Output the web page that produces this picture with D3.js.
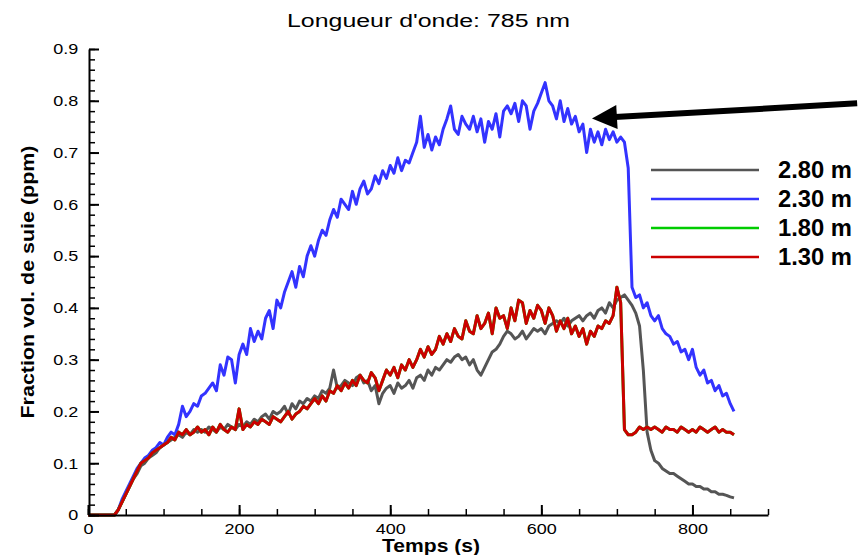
<!DOCTYPE html>
<html>
<head>
<meta charset="utf-8">
<script src="https://cdn.jsdelivr.net/npm/d3@7"></script>
<style>
body { margin: 0; background: #fff; }
text { font-family: "Liberation Sans", Arial, sans-serif; }
</style>
</head>
<body>
<svg id="chart" width="859" height="555"></svg>
<script>
// values, one sample every 5 s
const gray280 = [
  0,0,0,0,0,0,0,0,0.01,0.025,
  0.04,0.055,0.07,0.08,0.095,0.10,0.11,0.115,0.12,0.13,
  0.135,0.14,0.145,0.15,0.155,0.15,0.16,0.155,0.165,0.16,
  0.165,0.16,0.17,0.165,0.16,0.17,0.165,0.175,0.17,0.165,
  0.175,0.17,0.18,0.175,0.185,0.18,0.19,0.195,0.185,0.20,
  0.195,0.20,0.21,0.195,0.215,0.205,0.22,0.215,0.225,0.22,
  0.23,0.225,0.24,0.235,0.245,0.28,0.245,0.25,0.26,0.255,
  0.25,0.265,0.27,0.255,0.26,0.24,0.25,0.215,0.235,0.245,
  0.25,0.235,0.255,0.245,0.25,0.26,0.245,0.265,0.27,0.26,
  0.28,0.27,0.285,0.28,0.29,0.30,0.295,0.305,0.31,0.30,
  0.305,0.29,0.30,0.28,0.27,0.285,0.30,0.315,0.32,0.33,
  0.345,0.355,0.35,0.34,0.345,0.355,0.34,0.35,0.36,0.355,
  0.36,0.35,0.365,0.37,0.375,0.37,0.38,0.365,0.375,0.38,
  0.385,0.375,0.385,0.39,0.38,0.395,0.40,0.39,0.41,0.40,
  0.415,0.42,0.425,0.415,0.405,0.39,0.365,0.28,0.16,0.125,
  0.105,0.10,0.09,0.085,0.08,0.08,0.075,0.07,0.065,0.06,
  0.06,0.055,0.055,0.05,0.05,0.045,0.045,0.04,0.04,0.038,
  0.035,0.033
];
const blue230 = [
  0,0,0,0,0,0,0,0,0.01,0.03,
  0.045,0.06,0.075,0.09,0.10,0.11,0.115,0.125,0.13,0.14,
  0.135,0.15,0.16,0.155,0.175,0.21,0.19,0.20,0.215,0.21,
  0.23,0.235,0.245,0.255,0.24,0.29,0.27,0.305,0.30,0.255,
  0.31,0.33,0.31,0.36,0.335,0.355,0.34,0.38,0.395,0.36,
  0.415,0.40,0.43,0.45,0.47,0.44,0.48,0.46,0.50,0.52,
  0.50,0.53,0.55,0.54,0.57,0.59,0.575,0.61,0.60,0.59,
  0.625,0.60,0.63,0.645,0.62,0.63,0.655,0.64,0.665,0.65,
  0.675,0.66,0.69,0.665,0.685,0.68,0.70,0.72,0.77,0.71,
  0.735,0.705,0.73,0.715,0.745,0.765,0.79,0.745,0.735,0.77,
  0.755,0.745,0.77,0.74,0.765,0.72,0.76,0.745,0.775,0.73,
  0.78,0.79,0.775,0.795,0.76,0.80,0.79,0.745,0.78,0.795,
  0.815,0.835,0.80,0.79,0.765,0.80,0.76,0.785,0.755,0.77,
  0.74,0.755,0.70,0.745,0.72,0.74,0.715,0.745,0.725,0.74,
  0.72,0.73,0.72,0.67,0.44,0.42,0.425,0.40,0.41,0.385,
  0.375,0.385,0.36,0.35,0.345,0.33,0.335,0.315,0.32,0.30,
  0.32,0.285,0.27,0.28,0.255,0.26,0.24,0.25,0.23,0.235,
  0.215,0.20
];
// 1.80 m runs almost exactly under 1.30 m
const green180 = [
  0,0,0,0,0,0,0,0,0.01,0.025,
  0.04,0.055,0.07,0.085,0.10,0.105,0.11,0.12,0.125,0.13,
  0.135,0.14,0.15,0.145,0.16,0.155,0.165,0.155,0.16,0.17,
  0.16,0.165,0.155,0.17,0.16,0.175,0.165,0.16,0.17,0.165,
  0.205,0.165,0.175,0.17,0.18,0.175,0.185,0.18,0.175,0.19,
  0.185,0.18,0.19,0.20,0.185,0.195,0.20,0.21,0.205,0.215,
  0.225,0.215,0.23,0.22,0.24,0.235,0.25,0.24,0.255,0.245,
  0.26,0.25,0.27,0.26,0.255,0.275,0.265,0.24,0.26,0.28,
  0.27,0.285,0.265,0.29,0.28,0.30,0.285,0.30,0.32,0.305,
  0.325,0.31,0.32,0.345,0.33,0.35,0.335,0.36,0.345,0.34,
  0.375,0.355,0.35,0.385,0.36,0.37,0.39,0.35,0.40,0.38,
  0.385,0.36,0.40,0.375,0.415,0.41,0.37,0.395,0.38,0.405,
  0.395,0.37,0.40,0.385,0.355,0.375,0.36,0.38,0.35,0.365,
  0.345,0.36,0.33,0.355,0.345,0.365,0.36,0.375,0.37,0.385,
  0.44,0.41,0.165,0.155,0.155,0.16,0.17,0.165,0.17,0.165,
  0.17,0.165,0.16,0.17,0.165,0.165,0.16,0.17,0.165,0.16,
  0.165,0.16,0.17,0.165,0.16,0.165,0.17,0.16,0.165,0.16,
  0.16,0.155
];
const red130 = [
  0,0,0,0,0,0,0,0,0.01,0.025,
  0.04,0.055,0.07,0.085,0.10,0.105,0.11,0.12,0.125,0.13,
  0.135,0.14,0.15,0.145,0.16,0.155,0.165,0.155,0.16,0.17,
  0.16,0.165,0.155,0.17,0.16,0.175,0.165,0.16,0.17,0.165,
  0.205,0.165,0.175,0.17,0.18,0.175,0.185,0.18,0.175,0.19,
  0.185,0.18,0.19,0.20,0.185,0.195,0.20,0.21,0.205,0.215,
  0.225,0.215,0.23,0.22,0.24,0.235,0.25,0.24,0.255,0.245,
  0.26,0.25,0.27,0.26,0.255,0.275,0.265,0.24,0.26,0.28,
  0.27,0.285,0.265,0.29,0.28,0.30,0.285,0.30,0.32,0.305,
  0.325,0.31,0.32,0.345,0.33,0.35,0.335,0.36,0.345,0.34,
  0.375,0.355,0.35,0.385,0.36,0.37,0.39,0.35,0.40,0.38,
  0.385,0.36,0.40,0.375,0.415,0.41,0.37,0.395,0.38,0.405,
  0.395,0.37,0.40,0.385,0.355,0.375,0.36,0.38,0.35,0.365,
  0.345,0.36,0.33,0.355,0.345,0.365,0.36,0.375,0.37,0.385,
  0.44,0.41,0.165,0.155,0.155,0.16,0.17,0.165,0.17,0.165,
  0.17,0.165,0.16,0.17,0.165,0.165,0.16,0.17,0.165,0.16,
  0.165,0.16,0.17,0.165,0.16,0.165,0.17,0.16,0.165,0.16,
  0.16,0.155
];
const seriesNames = ["2.80 m", "2.30 m", "1.80 m", "1.30 m"];
const seriesColors = ["#555555", "#3333ff", "#00cc00", "#cc0000"];
const xTicks = [0, 200, 400, 600, 800];
const yTicks = [0, 0.1, 0.2, 0.3, 0.4, 0.5, 0.6, 0.7, 0.8, 0.9];
// arrow annotation, data units: tail then tip
const arrowTail = [1018, 0.795];
const arrowTip = [667, 0.766];

const series = [
  { name: seriesNames[0], color: seriesColors[0], values: gray280 },
  { name: seriesNames[1], color: seriesColors[1], values: blue230 },
  { name: seriesNames[2], color: seriesColors[2], values: green180 },
  { name: seriesNames[3], color: seriesColors[3], values: red130 }
];
const dt = 5;

const svg = d3.select("#chart");

const x = d3.scaleLinear().domain([0, 900]).range([88, 768]);
const y = d3.scaleLinear().domain([0, 0.9]).range([515, 49]);

// lines
const line = d3.line()
  .x(d => x(d[0]))
  .y(d => y(d[1]));

svg.append("g").selectAll("path")
  .data(series)
  .enter().append("path")
  .attr("d", s => line(s.values.map((v, i) => [i * dt, v])))
  .attr("fill", "none")
  .attr("stroke", s => s.color)
  .attr("stroke-width", 3)
  .attr("stroke-linejoin", "round");

// minor ticks
svg.append("g")
  .attr("transform", "translate(0,515)")
  .call(d3.axisBottom(x).tickValues(d3.range(0, 901, 50)).tickSize(-6).tickSizeOuter(0).tickFormat(""))
  .call(g => g.select(".domain").remove())
  .selectAll("line").attr("stroke-width", 1.5);
svg.append("g")
  .attr("transform", "translate(89,0)")
  .call(d3.axisLeft(y).tickValues(d3.range(0, 0.901, 0.02)).tickSize(-6).tickSizeOuter(0).tickFormat(""))
  .call(g => g.select(".domain").remove())
  .selectAll("line").attr("stroke-width", 1.5);

// major axes
const xAxis = svg.append("g")
  .attr("transform", "translate(0,515)")
  .call(d3.axisBottom(x).tickValues(xTicks).tickSize(-10).tickSizeOuter(0).tickPadding(8).tickFormat(d3.format("d")));
const yAxis = svg.append("g")
  .attr("transform", "translate(89,0)")
  .call(d3.axisLeft(y).tickValues(yTicks).tickSize(-10).tickSizeOuter(0).tickPadding(9).tickFormat(d => d === 0 ? "0" : d3.format(".1f")(d)));

[xAxis, yAxis].forEach(g => {
  g.select(".domain").attr("stroke-width", 2);
  g.selectAll(".tick line").attr("stroke-width", 2);
  g.selectAll(".tick text")
    .attr("font-size", 15)
    .attr("fill", "#000")
    .attr("font-family", "Liberation Sans, Arial, sans-serif")
    .attr("transform", "scale(1.2,1)");
});

// title and axis titles
svg.append("text")
  .attr("x", 428.5).attr("y", 27)
  .attr("text-anchor", "middle")
  .attr("font-size", 18)
  .attr("textLength", 283).attr("lengthAdjust", "spacingAndGlyphs")
  .text("Longueur d'onde: 785 nm");

svg.append("text")
  .attr("transform", "translate(34,282) rotate(-90)")
  .attr("text-anchor", "middle")
  .attr("font-size", 19)
  .attr("font-weight", "bold")
  .attr("textLength", 273).attr("lengthAdjust", "spacingAndGlyphs")
  .text("Fraction vol. de suie (ppm)");

svg.append("text")
  .attr("x", 431).attr("y", 552)
  .attr("text-anchor", "middle")
  .attr("font-size", 18)
  .attr("font-weight", "bold")
  .attr("textLength", 98).attr("lengthAdjust", "spacingAndGlyphs")
  .text("Temps (s)");

// legend
const legend = svg.append("g").selectAll("g")
  .data(series)
  .enter().append("g")
  .attr("transform", (s, i) => `translate(651,${170 + i * 29})`);
legend.append("line")
  .attr("x1", 0).attr("x2", 108)
  .attr("stroke", s => s.color)
  .attr("stroke-width", 2.5);
legend.append("text")
  .attr("x", 127).attr("y", 8)
  .attr("font-size", 23)
  .attr("font-weight", "bold")
  .attr("textLength", 74).attr("lengthAdjust", "spacingAndGlyphs")
  .text(s => s.name);

// arrow
const ax0 = x(arrowTail[0]), ay0 = y(arrowTail[1]);
const ax1 = x(arrowTip[0]), ay1 = y(arrowTip[1]);
const len = Math.hypot(ax1 - ax0, ay1 - ay0);
const ux = (ax1 - ax0) / len, uy = (ay1 - ay0) / len;
const headLen = 25, headHalf = 12;
const bx = ax1 - ux * headLen, by = ay1 - uy * headLen;
svg.append("line")
  .attr("x1", ax0).attr("y1", ay0)
  .attr("x2", bx + ux * 2).attr("y2", by + uy * 2)
  .attr("stroke", "#000")
  .attr("stroke-width", 6);
svg.append("path")
  .attr("d", `M${ax1},${ay1}L${bx - uy * headHalf},${by + ux * headHalf}L${bx + uy * headHalf},${by - ux * headHalf}Z`)
  .attr("fill", "#000");
</script>
</body>
</html>
